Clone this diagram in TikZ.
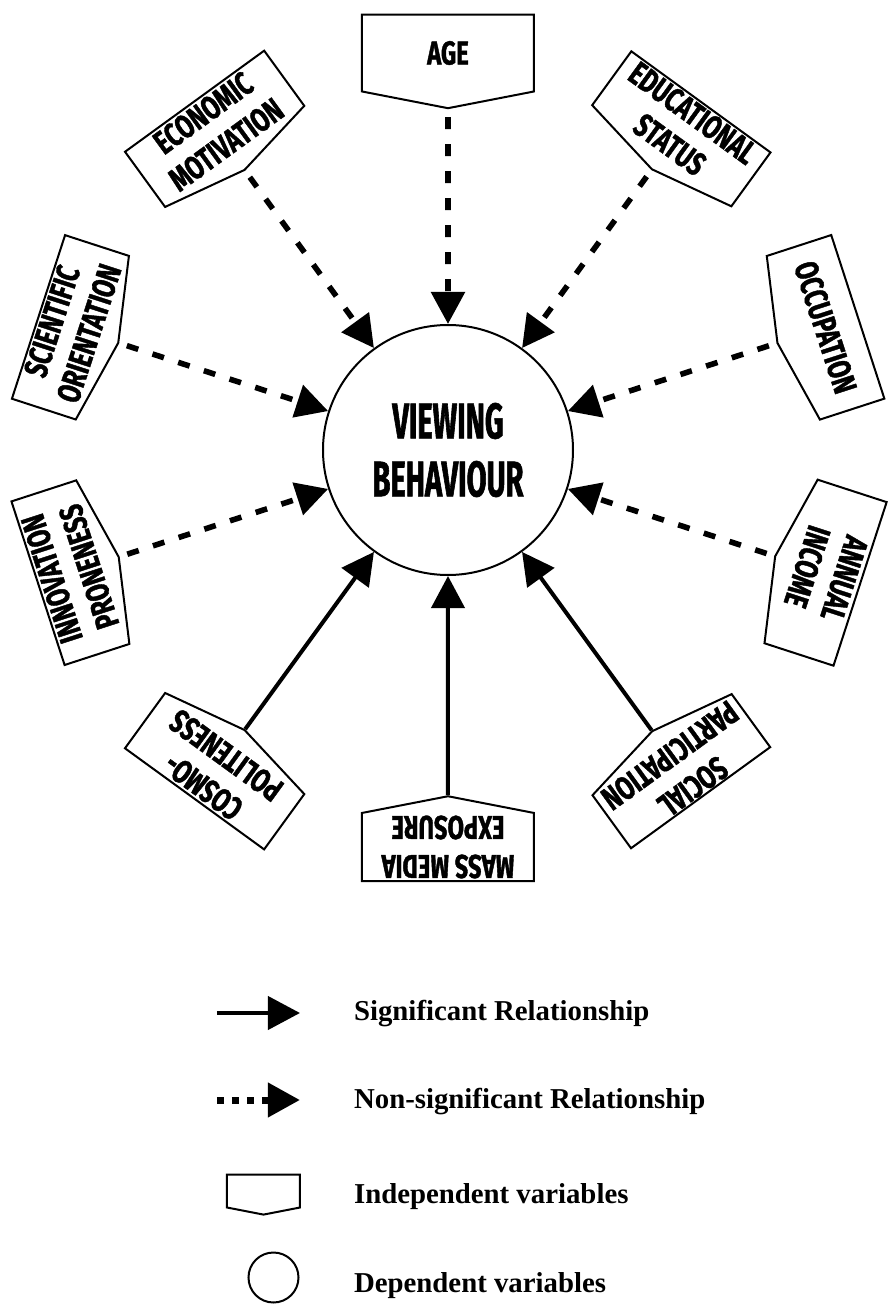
\documentclass[tikz,border=0pt]{standalone}
\usepackage{fontspec}
\setmainfont{Liberation Serif}
\newfontfamily\varfont[FakeStretch=0.72, BoldFeatures={FakeBold=1.2}]{Fira Sans}
\newfontfamily\depfont[FakeStretch=0.58, BoldFeatures={FakeBold=1.2}]{Fira Sans}
\usetikzlibrary{arrows.meta,shapes.symbols}

\tikzset{
  indep/.style={shape=signal, signal to=south, signal pointer angle=158,
    draw=black, line width=1pt, minimum width=86pt, minimum height=40.5pt,
    inner sep=0pt, align=center, font=\varfont\bfseries\fontsize{16.5}{19.5}\selectfont},
  dep/.style={shape=circle, draw=black, line width=1pt, minimum size=125pt,
    inner sep=0pt, align=center, font=\depfont\bfseries\fontsize{25}{29}\selectfont},
  sig/.style={draw, line width=2pt, -{Triangle[length=16pt,width=16.5pt]}},
  nonsig/.style={draw, line width=2.8pt, dash pattern=on 6pt off 7.5pt,
    shorten <=4pt, -{Triangle[length=16pt,width=16.5pt]}},
  legtxt/.style={anchor=base west, font=\bfseries\fontsize{14.4}{17}\selectfont}
}

\begin{document}
\begin{tikzpicture}[x=0.5pt,y=0.5pt]
            \useasboundingbox (-448,450) rectangle (441,-857);

            \node[dep] (vb) at (0,0) {VIEWING\\BEHAVIOUR};

            \node[indep, rotate=0] (age) at (90:397) {AGE};
            \node[indep, rotate=36] (eco) at (126:397) {ECONOMIC\\MOTIVATION};
            \node[indep, rotate=-36] (edu) at (54:397) {EDUCATIONAL\\STATUS};
            \node[indep, rotate=72] (sci) at (162:397) {SCIENTIFIC\\ORIENTATION};
            \node[indep, rotate=-72] (occ) at (18:397) {OCCUPATION};
            \node[indep, rotate=108] (inn) at (198:397) {INNOVATION\\PRONENESS};
            \node[indep, rotate=-108] (inc) at (342:397) {ANNUAL\\INCOME};
            \node[indep, rotate=144] (cos) at (234:397) {COSMO-\\POLITENESS};
            \node[indep, rotate=180] (mme) at (270:397) {MASS MEDIA\\EXPOSURE};
            \node[indep, rotate=216] (soc) at (306:397) {SOCIAL\\PARTICIPATION};

            \path [nonsig] (age) edge (vb);
            \path [nonsig] (eco) edge (vb);
            \path [nonsig] (edu) edge (vb);
            \path [nonsig] (sci) edge (vb);
            \path [nonsig] (occ) edge (vb);
            \path [nonsig] (inn) edge (vb);
            \path [nonsig] (inc) edge (vb);
            \path [sig] (cos) edge (vb);
            \path [sig] (mme) edge (vb);
            \path [sig] (soc) edge (vb);

            % legend
            \coordinate (sa) at (-231,-563);
            \coordinate (sb) at (-148,-563);
            \draw [sig] (sa) -- (sb);
            \node[legtxt] (lsig) at (-101,-570) {Significant Relationship};

            \coordinate (na) at (-231,-650);
            \coordinate (nb) at (-148,-650);
            \draw [nonsig, line width=3.5pt, dash pattern=on 3.5pt off 4pt, shorten <=0pt] (na) -- (nb);
            \node[legtxt] (lnon) at (-101,-658) {Non-significant Relationship};

            \node[indep, minimum width=36.5pt, minimum height=16.5pt] (lbox) at (-184.5,-741) {};
            \node[legtxt] (lind) at (-101,-753) {Independent variables};

            \node[dep, minimum size=25pt] (lcir) at (-174.5,-827.5) {};
            \node[legtxt] (ldep) at (-101,-842) {Dependent variables};
        \end{tikzpicture}
\end{document}
